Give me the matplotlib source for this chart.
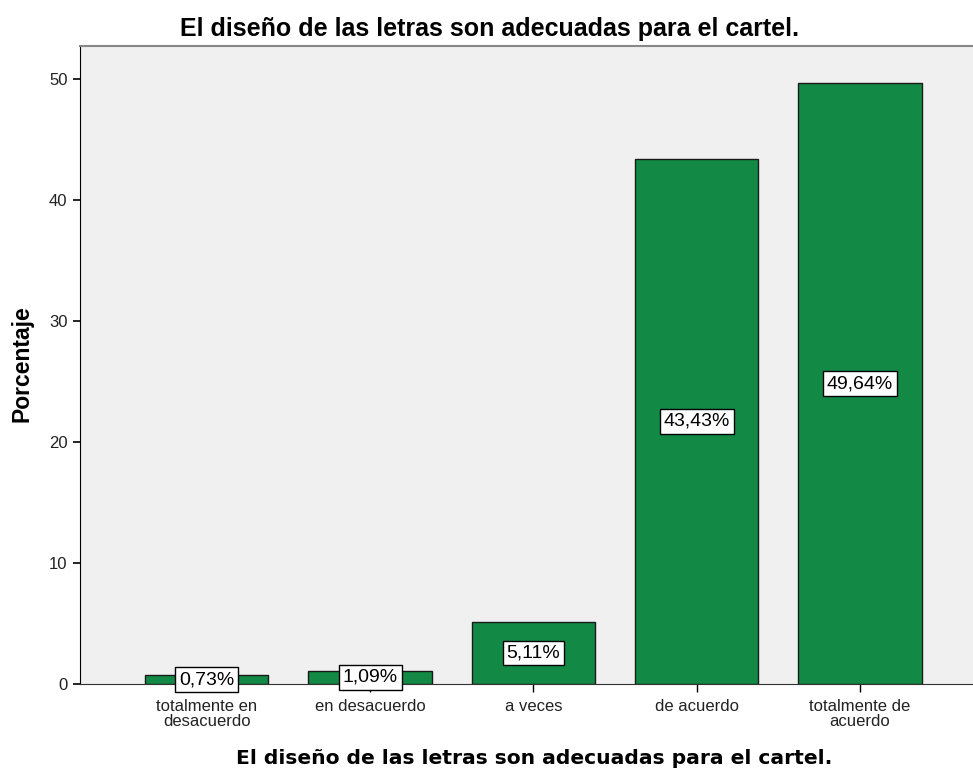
import numpy as np
import matplotlib.pyplot as plt

plt.rcParams['font.family'] = ['Liberation Sans', 'DejaVu Sans']

categorias = ['totalmente en\ndesacuerdo', 'en desacuerdo', 'a veces',
              'de acuerdo', 'totalmente de\nacuerdo']
porcentajes = [0.73, 1.09, 5.11, 43.43, 49.64]
etiquetas = ['0,73%', '1,09%', '5,11%', '43,43%', '49,64%']
titulo = 'El diseño de las letras son adecuadas para el cartel.'

fig = plt.figure(figsize=(9.73, 7.71), dpi=100)
ax = fig.add_axes([80 / 973, 1 - 684 / 771, 1 - 80 / 973 + 0.002, (684 - 46) / 771])
ax.set_facecolor('#f0f0f0')

x = np.arange(len(categorias))
ax.bar(x, porcentajes, width=0.755, color='#128a45', edgecolor='#1a1a1a', linewidth=1.0, zorder=2)

for xi, v, t in zip(x, porcentajes, etiquetas):
    ax.text(xi, v / 2, t, ha='center', va='center', fontsize=14, zorder=3,
            bbox=dict(boxstyle='square,pad=0.2', facecolor='white', edgecolor='black', linewidth=1.0))

ax.set_xlim(-0.776, 4.703)
ax.set_ylim(0, 52.73)
ax.set_yticks([0, 10, 20, 30, 40, 50])
ax.set_xticks(x)
ax.set_xticklabels(categorias, fontsize=12, linespacing=0.95)
ax.tick_params(axis='y', labelsize=12, length=5, width=1.2, direction='out', pad=4, labelcolor='#222222')
ax.tick_params(axis='x', length=6, width=1.0, direction='out', pad=5, labelcolor='#222222')

ax.spines['right'].set_visible(False)
ax.spines['top'].set_color('#888888')
ax.spines['top'].set_linewidth(1.5)
ax.spines['left'].set_color('black')
ax.spines['bottom'].set_color('#333333')

fig.text(22 / 973, 1 - 364 / 771, 'Porcentaje', rotation=90, ha='center', va='center',
         fontsize=16.5, fontweight='bold')
fig.text(490 / 973, 1 - 29 / 771, titulo, ha='center', va='center', fontsize=18, fontweight='bold')
fig.text(534 / 973, 1 - 759 / 771, titulo, ha='center', va='center', fontsize=14.6,
         fontweight='bold', family='DejaVu Sans')

fig.savefig('out.png', dpi=100)
